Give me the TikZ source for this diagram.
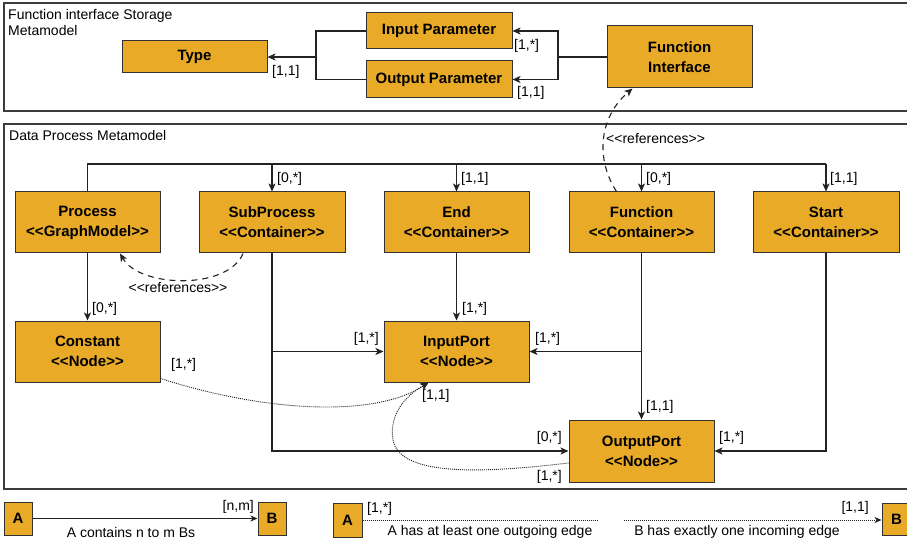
\documentclass[tikz,border=0pt]{standalone}
\usepackage{fontspec}
\setmainfont{Liberation Sans}
\usetikzlibrary{arrows.meta,calc}
\definecolor{boxfill}{RGB}{233,170,40}
\definecolor{boxline}{RGB}{50,50,50}
\definecolor{frameline}{RGB}{60,60,60}
\definecolor{edge}{RGB}{35,35,35}
\tikzset{
  box/.style={draw=boxline, fill=boxfill, line width=1pt, inner sep=0pt, align=center,
    font=\fontsize{15}{20}\selectfont\bfseries},
  frame/.style={draw=frameline, line width=1.5pt},
  conn/.style={draw=edge, line width=1.1pt},
  arr/.style={conn, -{Stealth[length=8pt,width=7pt,inset=2pt]}},
  refline/.style={conn, dash pattern=on 6pt off 5pt, -{Stealth[length=8pt,width=7pt,inset=2pt]}},
  dotline/.style={draw=edge, line width=0.9pt, dash pattern=on 1pt off 1pt, -{Stealth[length=8pt,width=7pt,inset=2pt]}},
  dotplain/.style={draw=edge, line width=0.9pt, dash pattern=on 1pt off 1pt},
  lbl/.style={inner sep=0pt, font=\fontsize{14}{16}\selectfont},
}
\begin{document}
\begin{tikzpicture}[x=1pt,y=-1pt]
\useasboundingbox (0,0) rectangle (907,545);
% frames
\draw[frame] (4,3) rectangle (912,111);
\draw[frame] (4,124) rectangle (912,489);
\node[lbl, anchor=north west, align=left] (t1) at (8,9) {Function interface Storage\\Metamodel};
\node[lbl, anchor=base west] (t2) at (9,141) {Data Process Metamodel};

% top nodes
\node[box, minimum width=145pt, minimum height=32pt] (type) at (194.5,57) {Type};
\node[box, minimum width=146pt, minimum height=36pt] (inp) at (439,31) {Input Parameter};
\node[box, minimum width=146pt, minimum height=37pt] (outp) at (439,79.5) {Output Parameter};
\node[box, minimum width=145pt, minimum height=62pt] (fi) at (679.5,57) {Function\\Interface};

\coordinate (j1) at (316,57);
\draw[conn] (inp.west) -| (j1) |- (outp.west);
\draw[arr] (j1) -- (type.east);
\node[lbl, anchor=west] (l1) at (272,72) {[1,1]};

\coordinate (j2) at (558,57);
\draw[conn] (fi.west) -- (j2);
\draw[arr] (j2) |- (inp.east);
\draw[arr] (j2) |- (outp.east);
\node[lbl, anchor=west] (l2) at (514,46) {[1,*]};
\node[lbl, anchor=west] (l3) at (517,93) {[1,1]};

% container row
\node[box, minimum width=145pt, minimum height=61pt] (proc) at (87.5,222.5) {Process\\<{}<GraphModel>{}>};
\node[box, minimum width=146pt, minimum height=61pt] (sub) at (272,222.5) {SubProcess\\<{}<Container>{}>};
\node[box, minimum width=145pt, minimum height=61pt] (end) at (456.5,222.5) {End\\<{}<Container>{}>};
\node[box, minimum width=145pt, minimum height=61pt] (func) at (641.5,222.5) {Function\\<{}<Container>{}>};
\node[box, minimum width=146pt, minimum height=61pt] (start) at (826,222.5) {Start\\<{}<Container>{}>};

\node[box, minimum width=145pt, minimum height=61pt] (const) at (87.5,351.5) {Constant\\<{}<Node>{}>};
\node[box, minimum width=145pt, minimum height=61pt] (inport) at (456.5,351.5) {InputPort\\<{}<Node>{}>};
\node[box, minimum width=145pt, minimum height=62pt] (outport) at (641.5,451) {OutputPort\\<{}<Node>{}>};

% bus
\coordinate (b1) at (87.5,164);
\coordinate (b2) at (826,164);
\draw[conn] (proc.north) -- (b1) -- (b2);
\draw[arr] (b2) -- (start.north);
\draw[arr] (sub.north |- b1) -- (sub.north);
\draw[arr] (end.north |- b1) -- (end.north);
\draw[arr] (func.north |- b1) -- (func.north);
\node[lbl, anchor=west] (l4) at (277,179) {[0,*]};
\node[lbl, anchor=west] (l5) at (461,179) {[1,1]};
\node[lbl, anchor=west] (l6) at (646,179) {[0,*]};
\node[lbl, anchor=west] (l7) at (830,179) {[1,1]};

% references
\draw[refline] ([xshift=-29pt]sub.south) .. controls (228,290) and (140,288) .. ([xshift=32.5pt]proc.south);
\node[lbl] (r1) at (178,288) {<{}<references>{}>};
\draw[refline] ([xshift=-25pt]func.north) .. controls (596,160) and (598,118) .. ([xshift=-47pt]fi.south);
\node[lbl, anchor=west] (r2) at (606,139) {<{}<references>{}>};

% vertical containment
\draw[arr] (proc.south) -- (const.north);
\node[lbl, anchor=west] (l8) at (92,309) {[0,*]};
\draw[arr] (end.south) -- (inport.north);
\node[lbl, anchor=west] (l9) at (462,309) {[1,*]};

\draw[arr] (sub.south) |- (outport.west);
\draw[arr] (sub.south |- inport.west) -- (inport.west);
\node[lbl, anchor=east] (l10) at (379,339) {[1,*]};
\node[lbl, anchor=east] (l11) at (562,438) {[0,*]};

\draw[arr] (func.south) -- (outport.north);
\draw[arr] (func.south |- inport.east) -- (inport.east);
\node[lbl, anchor=west] (l12) at (646,407) {[1,1]};
\node[lbl, anchor=west] (l13) at (535,339) {[1,*]};

\draw[arr] (start.south) |- (outport.east);
\node[lbl, anchor=west] (l14) at (719,438) {[1,*]};

% dotted edges
\draw[dotline] ([yshift=4pt]const.south east) .. controls (265,412) and (375,418) .. ([xshift=-28pt]inport.south);
\node[lbl, anchor=west] (l15) at (171,365) {[1,*]};
\node[lbl, anchor=west] (l16) at (422,396) {[1,1]};
\draw[dotline] ([yshift=-12pt]outport.west) .. controls (500,471) and (400,480) .. (393,440) .. controls (388,410) and (412,392) .. ([xshift=-28pt]inport.south);
\node[lbl, anchor=east] (l17) at (562,477) {[1,*]};

% legend
\node[box, minimum width=28pt, minimum height=33pt] (la) at (18,518.5) {A};
\node[box, minimum width=28pt, minimum height=33pt] (lb) at (272,518.5) {B};
\draw[arr, line width=0.9pt, -{Stealth[length=7pt,width=6pt,inset=2pt]}] (la.east) -- (lb.west);
\node[lbl, anchor=east] (g1) at (254,507) {[n,m]};
\node[lbl] (g2) at (131,532) {A contains n to m Bs};

\node[box, minimum width=29pt, minimum height=34pt] (la2) at (347.5,520) {A};
\coordinate (e2) at (597,520);
\draw[dotplain] (la2.east) -- (e2);
\node[lbl, anchor=west] (g3) at (367,509) {[1,*]};
\node[lbl] (g4) at (490,532) {A has at least one outgoing edge};

\node[box, minimum width=29pt, minimum height=32pt] (lb2) at (896.5,519) {B};
\coordinate (s3) at (624,520);
\draw[dotline, -{Stealth[length=7pt,width=6pt,inset=2pt]}] (s3) -- (s3 -| lb2.west);
\node[lbl, anchor=east] (g5) at (869,508) {[1,1]};
\node[lbl] (g6) at (737,532) {B has exactly one incoming edge};
\end{tikzpicture}
\end{document}
